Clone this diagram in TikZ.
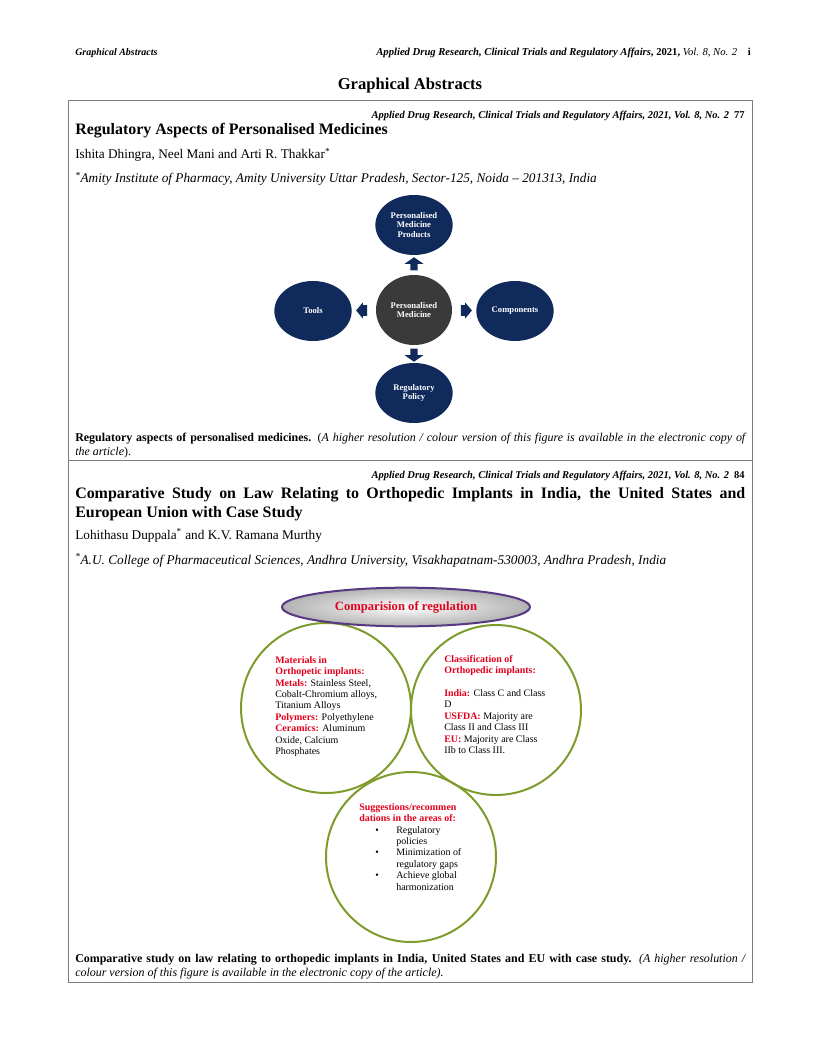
\documentclass[tikz,border=0pt]{standalone}
\usepackage{fontspec}
\setmainfont{Liberation Serif}
\usetikzlibrary{shapes.geometric,shapes.arrows,calc}
\definecolor{navy}{RGB}{17,42,92}
\definecolor{pmgray}{RGB}{58,58,58}
\definecolor{leaf}{RGB}{125,156,43}
\definecolor{plum}{RGB}{88,56,130}
\definecolor{redtxt}{RGB}{225,0,28}
\definecolor{boxgray}{RGB}{125,125,125}
\begin{document}
\begin{tikzpicture}[x=0.75bp,y=-0.75bp,
  every node/.style={inner sep=0pt},
  runhead/.style={font=\fontsize{8}{9.5}\selectfont},
  jour/.style={anchor=base east,font=\fontsize{7.9}{9.5}\selectfont\bfseries\itshape},
  papertitle/.style={font=\fontsize{12}{14.25}\selectfont\bfseries},
  authors/.style={anchor=base west,font=\fontsize{10}{12}\selectfont},
  affil/.style={anchor=base west,font=\fontsize{10}{12}\selectfont\itshape},
  caption/.style={anchor=north west,text width=502.5bp,align=justify,font=\fontsize{9}{10.5}\selectfont},
  blob/.style={ellipse,fill=navy,text=white,align=center,minimum width=58bp,minimum height=45bp,font=\fontsize{6.5}{7}\selectfont\bfseries},
  blockarrow/.style={single arrow,fill=navy,single arrow tip angle=110,minimum width=14bp,inner xsep=1.5bp,inner ysep=3.75bp,single arrow head extend=2.75bp},
  sidearrow/.style={single arrow,fill=navy,single arrow tip angle=100,minimum width=12bp,inner xsep=2.25bp,inner ysep=3.75bp,single arrow head extend=2bp},
  ring/.style={circle,draw=leaf,line width=1.5bp,minimum size=127.5bp},
  ringtext/.style={anchor=north west,align=left,font=\fontsize{7.5}{8.6}\selectfont},
]
\useasboundingbox (0,0) rectangle (816,1056);
\node[anchor=base west,font=\fontsize{7.5}{9}\selectfont\bfseries\itshape] (runleft) at (75,56) {Graphical Abstracts};
\node[runhead,anchor=base east] (runright) at (751,56) {\textbf{\textit{Applied Drug Research, Clinical Trials and Regulatory Affairs}}\textbf{, 2021, }\textit{Vol. 8, No. 2}\quad\textbf{i}};
\node[anchor=base,font=\fontsize{12.5}{14}\selectfont\bfseries] (pagetitle) at (410,90) {Graphical Abstracts};
\draw[boxgray,line width=0.75bp] (68,101) rectangle (752,982);
\draw[boxgray,line width=0.75bp] (68,460) -- (752,460);

\node[jour] (jour1) at (745,119) {Applied Drug Research, Clinical Trials and Regulatory Affairs, 2021, Vol. 8, No. 2\enspace{\upshape 77}};
\node[papertitle,anchor=base west] (title1) at (75,135) {Regulatory Aspects of Personalised Medicines};
\node[authors] (auth1) at (75,159) {Ishita Dhingra, Neel Mani and Arti R. Thakkar\textsuperscript{*}};
\node[affil] (affil1) at (75,183) {\textsuperscript{*}Amity Institute of Pharmacy, Amity University Uttar Pradesh, Sector-125, Noida – 201313, India};

\node[blob] (prod) at (414,225) {Personalised\\Medicine\\Products};
\node[blob,fill=pmgray,minimum width=57bp,minimum height=52.5bp] (pm) at (414,310) {Personalised\\Medicine};
\node[blob] (tools) at (313,311) {Tools};
\node[blob] (comp) at (515,311) {Components};
\node[blob] (policy) at (414,393) {Regulatory\\Policy};
\node[blockarrow,shape border rotate=90] (aup) at ($(pm.north)!.5!(prod.south)$) {};
\node[blockarrow,shape border rotate=270] (adown) at ($(pm.south)!.5!(policy.north)$) {};
\node[sidearrow,shape border rotate=180] (aleft) at ($(pm.west)!.5!(tools.east)$) {};
\node[sidearrow] (aright) at ($(pm.east)!.5!(comp.west)$) {};

\node[caption] (cap1) at (75,432.7) {\textbf{Regulatory aspects of personalised medicines.} (\textit{A higher resolution / colour version of this figure is available in the electronic copy of\linebreak the article}).};

\node[jour] (jour2) at (745,478) {Applied Drug Research, Clinical Trials and Regulatory Affairs, 2021, Vol. 8, No. 2\enspace{\upshape 84}};
\node[papertitle,anchor=north west,text width=502.5bp,align=justify] (title2) at (75,487) {Comparative Study on Law Relating to Orthopedic Implants in India, the United States and\linebreak European Union with Case Study};
\node[authors] (auth2) at (75,539) {Lohithasu Duppala\textsuperscript{*} and K.V. Ramana Murthy};
\node[affil] (affil2) at (75,564) {\textsuperscript{*}A.U. College of Pharmaceutical Sciences, Andhra University, Visakhapatnam-530003, Andhra Pradesh, India};

\node[ring] (mat) at (326,708) {};
\node[ring] (cls) at (496,710) {};
\node[ring] (sug) at (411,857) {};
\node[ellipse,draw=plum,line width=1.5bp,inner color=white,outer color=gray!60,minimum width=186bp,minimum height=29bp,font=\fontsize{9.5}{11}\selectfont\bfseries,text=redtxt] (cmp) at (406,607) {Comparision of regulation};

\node[ringtext] (mattext) at (275,656) {\textcolor{redtxt}{\bfseries Materials in}\\
\textcolor{redtxt}{\bfseries Orthopetic implants:}\\
\textcolor{redtxt}{\bfseries Metals:} Stainless Steel,\\
Cobalt-Chromium alloys,\\
Titanium Alloys\\
\textcolor{redtxt}{\bfseries Polymers:} Polyethylene\\
\textcolor{redtxt}{\bfseries Ceramics:} Aluminum\\
Oxide, Calcium\\
Phosphates};
\node[ringtext] (clstext) at (444,655) {\textcolor{redtxt}{\bfseries Classification of}\\
\textcolor{redtxt}{\bfseries Orthopedic implants:}\\
\\
\textcolor{redtxt}{\bfseries India:} Class C and Class\\
D\\
\textcolor{redtxt}{\bfseries USFDA:} Majority are\\
Class II and Class III\\
\textcolor{redtxt}{\bfseries EU:} Majority are Class\\
IIb to Class III.};
\node[ringtext] (sugtext) at (359,803) {\textcolor{redtxt}{\bfseries Suggestions/recommen}\\
\textcolor{redtxt}{\bfseries dations in the areas of:}\\
\hspace*{12bp}\makebox[15.75bp][l]{\textbullet}Regulatory\\
\hspace*{27.75bp}policies\\
\hspace*{12bp}\makebox[15.75bp][l]{\textbullet}Minimization of\\
\hspace*{27.75bp}regulatory gaps\\
\hspace*{12bp}\makebox[15.75bp][l]{\textbullet}Achieve global\\
\hspace*{27.75bp}harmonization};

\node[caption] (cap2) at (75,953.7) {\textbf{Comparative study on law relating to orthopedic implants in India, United States and EU with case study.} \textit{(A higher resolution /\linebreak colour version of this figure is available in the electronic copy of the article).}};
\end{tikzpicture}
\end{document}
